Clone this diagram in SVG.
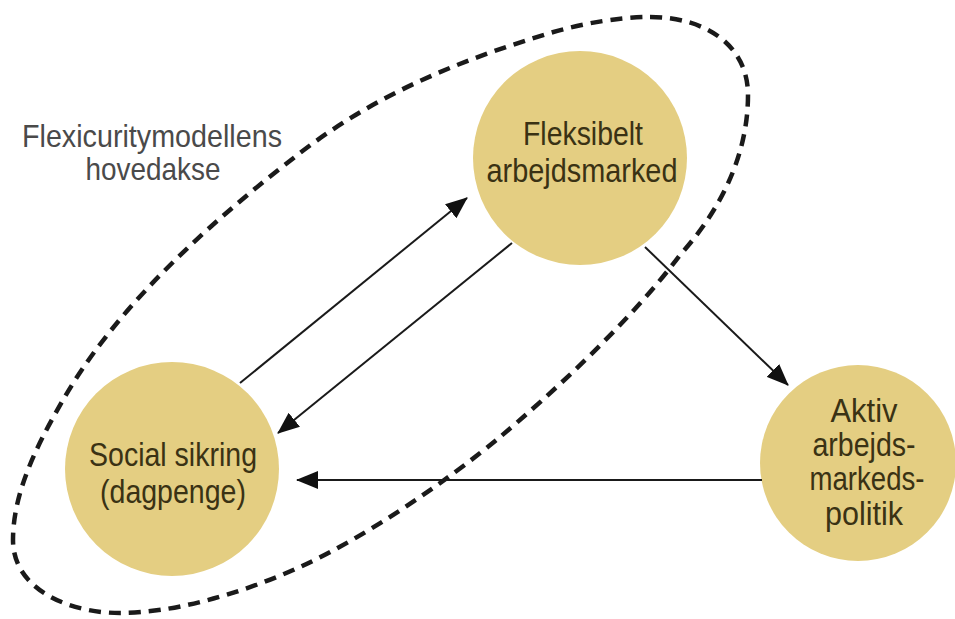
<svg xmlns="http://www.w3.org/2000/svg" width="955" height="619" viewBox="0 0 955 619">
<style>
.node{fill:#e4ce82}
.nt{font-family:"Liberation Sans","DejaVu Sans",sans-serif;font-size:33px;fill:#3a3214;text-anchor:middle}
.lbl{font-family:"Liberation Sans","DejaVu Sans",sans-serif;font-size:32px;fill:#4a4a4a;text-anchor:middle}
.conn{stroke:#1a1a1a;stroke-width:2;fill:none;marker-end:url(#ah)}
.axis{fill:none;stroke:#1a1a1a;stroke-width:4.5;stroke-dasharray:12 8}
</style>
<defs>
<marker id="ah" markerUnits="userSpaceOnUse" markerWidth="22" markerHeight="18" refX="21" refY="9" orient="auto">
<path d="M0,0 L22,9 L0,18 z" fill="#111"/>
</marker>
</defs>
<rect width="955" height="619" fill="#fff"/>
<g id="axis">
<path class="axis" d="M650,17 C705,17 748,45 748,95 C748,150 725,205 680,255 C630,322 550,395 500,437 C446,482 364,538 300,567 C236,596 170,613 120,613 C70,613 13,590 13,540 C13,490 40,440 63,400 C118,304 213,220 300,153 C379,92 464,59 550,33 C584,23 620,17 650,17 Z"/>
<text class="lbl" x="152" y="147" textLength="260" lengthAdjust="spacingAndGlyphs">Flexicuritymodellens</text>
<text class="lbl" x="153" y="180" textLength="135" lengthAdjust="spacingAndGlyphs">hovedakse</text>
</g>
<g id="fleksibelt">
<circle class="node" cx="580" cy="158" r="107"/>
<text class="nt" x="583" y="145" textLength="120" lengthAdjust="spacingAndGlyphs">Fleksibelt</text>
<text class="nt" x="582" y="182" textLength="191" lengthAdjust="spacingAndGlyphs">arbejdsmarked</text>
</g>
<g id="social">
<circle class="node" cx="172" cy="469" r="107"/>
<text class="nt" x="173" y="466" textLength="168" lengthAdjust="spacingAndGlyphs">Social sikring</text>
<text class="nt" x="173" y="503" textLength="146" lengthAdjust="spacingAndGlyphs">(dagpenge)</text>
</g>
<g id="aktiv">
<circle class="node" cx="858" cy="463" r="98"/>
<text class="nt" x="864" y="422" textLength="67" lengthAdjust="spacingAndGlyphs">Aktiv</text>
<text class="nt" x="864" y="456" textLength="103" lengthAdjust="spacingAndGlyphs">arbejds-</text>
<text class="nt" x="867" y="490" textLength="115" lengthAdjust="spacingAndGlyphs">markeds-</text>
<text class="nt" x="864" y="525" textLength="78" lengthAdjust="spacingAndGlyphs">politik</text>
</g>
<g id="connectors">
<line class="conn" x1="240" y1="383" x2="467" y2="198"/>
<line class="conn" x1="512" y1="243" x2="278" y2="433"/>
<line class="conn" x1="645" y1="247" x2="788" y2="385"/>
<line class="conn" x1="762" y1="480" x2="297" y2="480"/>
</g>
</svg>
